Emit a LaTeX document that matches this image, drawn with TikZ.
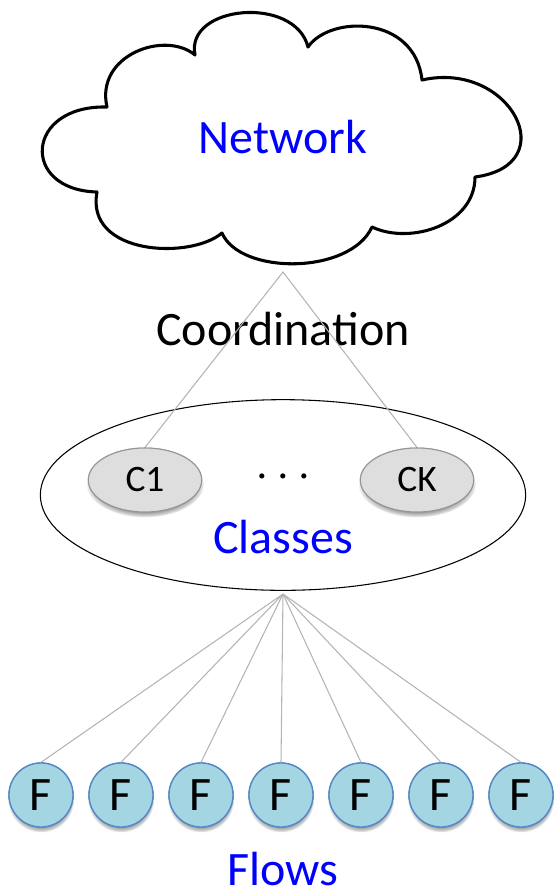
\documentclass[tikz,border=0pt]{standalone}
\usepackage{fontspec}
\setmainfont{Carlito}
\usetikzlibrary{shapes.geometric,shadows,fadings}
\definecolor{flowfill}{RGB}{164,213,227}
\definecolor{flowline}{RGB}{84,136,196}
\definecolor{classfill}{RGB}{222,222,222}
\definecolor{classline}{RGB}{150,150,150}
\definecolor{linkgray}{RGB}{180,180,180}
\definecolor{labelblue}{RGB}{0,0,255}

\tikzset{
  bigtext/.style={inner sep=0pt, anchor=base, font=\fontsize{36}{36}\selectfont},
  bluelabel/.style={bigtext, text=labelblue},
  link/.style={draw=linkgray, line width=0.8pt},
  softshadow/.style={circular drop shadow={shadow xshift=0pt, shadow yshift=-3pt,
    shadow scale=1.04, opacity=0.45}},
  classnode/.style={ellipse, draw=classline, fill=classfill, line width=0.8pt,
    minimum width=85pt, minimum height=48pt, inner sep=0pt,
    font=\fontsize{28}{28}\selectfont, softshadow},
  flownode/.style={circle, draw=flowline, fill=flowfill, line width=1pt,
    minimum size=48pt, inner sep=0pt, font=\fontsize{36}{36}\selectfont, softshadow}
}

\begin{document}
\begin{tikzpicture}[x=0.75pt, y=-0.75pt]
      %%%%% START %%%%%
      \useasboundingbox (0, 0) rectangle (554, 890);

      % hand drawn cloud
      \draw[line width=2.3pt, line join=round, fill=white] (107, 107)
        .. controls (95, 55) and (165, 30) .. (195, 55)
        .. controls (185, 5) and (295, -5) .. (308, 47)
        .. controls (330, 15) and (415, 15) .. (422, 80)
        .. controls (510, 60) and (565, 165) .. (475, 177)
        .. controls (475, 225) and (410, 245) .. (372, 227)
        .. controls (350, 275) and (240, 275) .. (222, 233)
        .. controls (190, 260) and (85, 255) .. (97, 192)
        .. controls (20, 190) and (25, 105) .. cycle;
      \node[bluelabel] (network) at (283, 153) {Network};

      \coordinate (netfoot) at (283, 272);
      \node[bigtext] (coord) at (283, 345) {Coordination};

      % classes
      \node[ellipse, draw, line width=0.8pt, minimum width=364pt, minimum height=143pt] (classbox) at (283, 495) {};
      \node[classnode] (c1) at (145, 480) {C1};
      \node[classnode] (ck) at (417, 480) {CK};
      \node[font=\fontsize{27}{27}\selectfont] (dots) at (283, 480) {\textperiodcentered\hspace{9pt}\textperiodcentered\hspace{9pt}\textperiodcentered};
      \node[bluelabel] (classes) at (283, 553) {Classes};

      \draw[link] (c1.north) -- (netfoot) -- (ck.north);
      \node[classnode] at (c1) {C1};
      \node[classnode] at (ck) {CK};

      % flows
      \coordinate (classfoot) at (283, 594);
      \foreach \i in {1,...,7} {
        \node[flownode] (f\i) at ({41 + 80*(\i-1)}, 795) {F};
        \draw[link] (classfoot) -- (f\i.north);
      }
      \foreach \i in {1,...,7}
        \node[flownode] at (f\i) {F};
      \node[bluelabel] (flows) at (283, 885) {Flows};

      %%%%% END %%%%%
\end{tikzpicture}
\end{document}
